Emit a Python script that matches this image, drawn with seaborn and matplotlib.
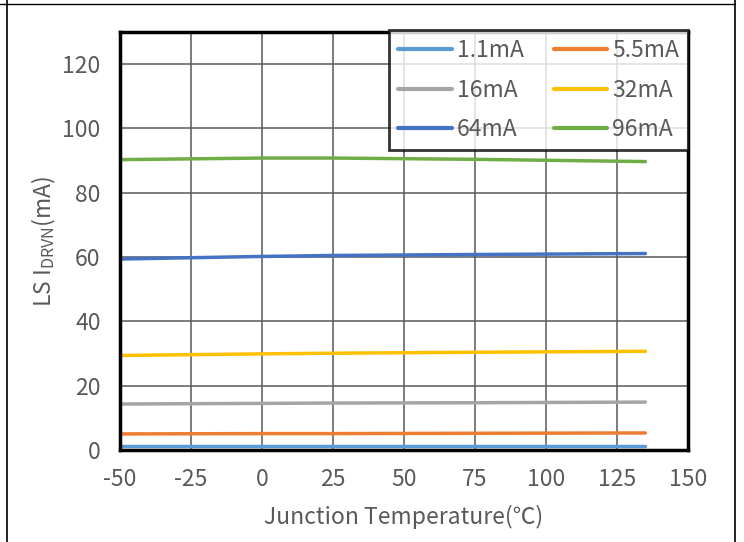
import numpy as np
import pandas as pd
import matplotlib
matplotlib.use("Agg")
import matplotlib.pyplot as plt
from matplotlib.lines import Line2D
import seaborn as sns

# dados
temp = [-50, 0, 25, 75, 135]
series_names = ["1.1mA", "5.5mA", "16mA", "32mA", "64mA", "96mA"]
i_1p1 = [1.1, 1.1, 1.1, 1.1, 1.1]
i_5p5 = [5.0, 5.1, 5.1, 5.2, 5.3]
i_16 = [14.3, 14.5, 14.6, 14.7, 14.9]
i_32 = [29.4, 29.9, 30.1, 30.4, 30.7]
i_64 = [59.4, 60.2, 60.5, 60.8, 61.1]
i_96 = [90.3, 90.8, 90.8, 90.4, 89.7]
colors = ["#5B9BD5", "#ED7D31", "#A5A5A5", "#FFC000", "#4472C4", "#70AD47"]

df = pd.DataFrame({"T": temp, "1.1mA": i_1p1, "5.5mA": i_5p5, "16mA": i_16,
                   "32mA": i_32, "64mA": i_64, "96mA": i_96})
long = df.melt(id_vars="T", var_name="serie", value_name="I")

sns.set_style("white")
plt.rcParams['font.family'] = ['Noto Sans CJK SC', 'DejaVu Sans']
plt.rcParams['font.weight'] = 'light'
plt.rcParams['mathtext.default'] = 'regular'
plt.rcParams['axes.unicode_minus'] = False

fs = 16.5
cinza = "#595959"

fig = plt.figure(figsize=(7.44, 5.42), dpi=100)
ax = fig.add_axes([120 / 744, 92 / 542, 568 / 744, 418 / 542])

sns.lineplot(data=long, x="T", y="I", hue="serie", hue_order=series_names,
             palette=colors, linewidth=2.5, ax=ax, legend=False)

ax.set_xlim(-50, 150)
ax.set_ylim(0, 130)
ax.set_xticks(np.arange(-50, 151, 25))
ax.set_yticks(np.arange(0, 121, 20))
ax.grid(True, color=cinza, linewidth=1.1)
ax.set_axisbelow(True)
for s in ax.spines.values():
    s.set_color("black")
    s.set_linewidth(2.5)
    s.set_visible(True)
ax.tick_params(axis="x", length=0, labelsize=fs, labelcolor=cinza, pad=13)
ax.tick_params(axis="y", length=0, labelsize=fs, labelcolor=cinza, pad=14)
ax.set_xlabel("Junction Temperature(℃)", fontsize=fs, color=cinza, labelpad=10)
ax.set_ylabel(r"LS I$_{DRVN}$(mA)", fontsize=fs, color=cinza, labelpad=3)

# ordem por linha, como no original
ordem = [0, 2, 4, 1, 3, 5]
handles = [Line2D([0], [0], color=colors[i], lw=3) for i in ordem]
labels = [series_names[i] for i in ordem]
leg = ax.legend(handles, labels, ncol=2, loc="upper right",
                bbox_to_anchor=(1.0, 1.005), frameon=True, fancybox=False,
                fontsize=fs, handlelength=2.35, handletextpad=0.2,
                columnspacing=1.3, borderpad=0.4, labelspacing=0.72,
                borderaxespad=0)
leg.get_frame().set_edgecolor("black")
leg.get_frame().set_linewidth(2)
for t in leg.get_texts():
    t.set_color(cinza)

# moldura externa (borda da celula)
fig.add_artist(Line2D([0, 735 / 744], [1 - 4 / 542, 1 - 4 / 542], color="black", lw=1, transform=fig.transFigure))
fig.add_artist(Line2D([7 / 744, 7 / 744], [0, 1], color="black", lw=1.2, transform=fig.transFigure))
fig.add_artist(Line2D([735 / 744, 735 / 744], [0, 1], color="black", lw=1.2, transform=fig.transFigure))

fig.savefig("out.png", dpi=100)
